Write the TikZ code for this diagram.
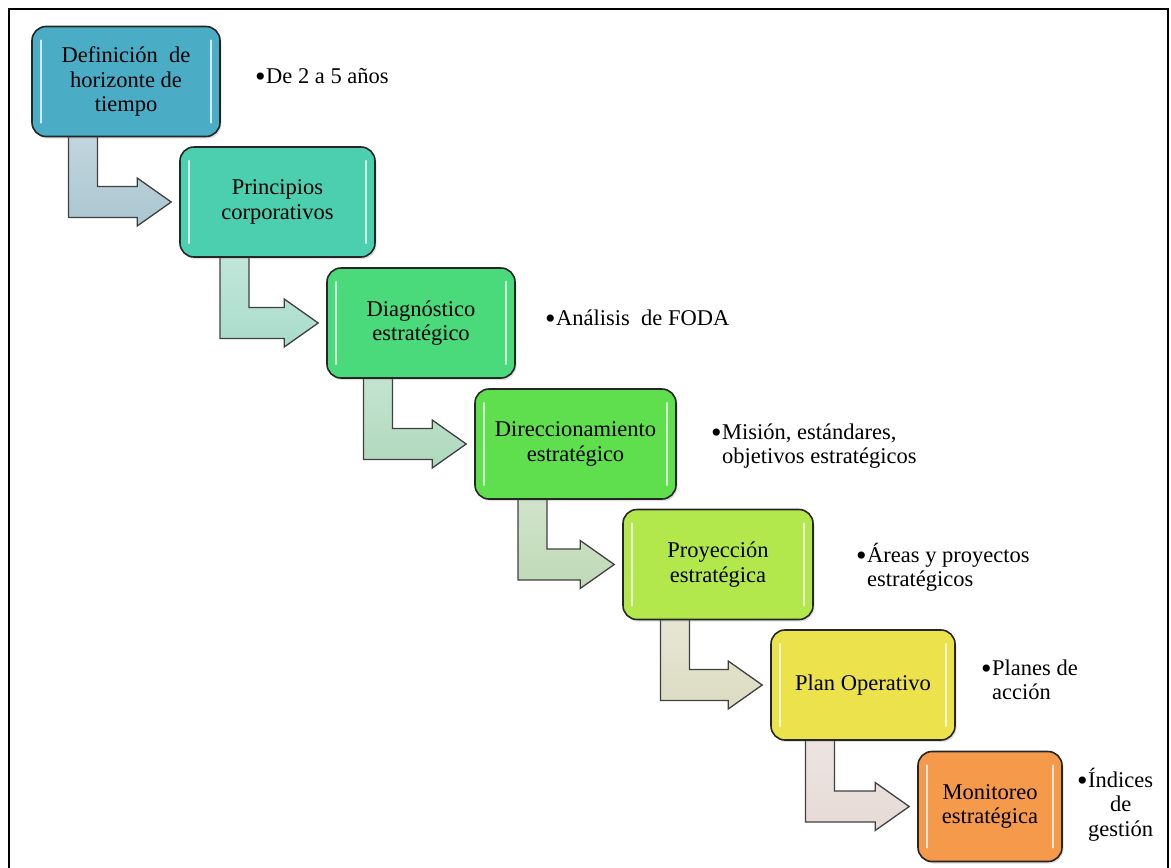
\documentclass[tikz,border=0pt]{standalone}
\usepackage{fontspec}
\setmainfont{Liberation Serif}
\usepackage{tikz}
\usetikzlibrary{positioning,calc,shadows,backgrounds}

\definecolor{boxA}{HTML}{4BACC6}
\definecolor{boxB}{HTML}{4CCFAF}
\definecolor{boxC}{HTML}{4AD97B}
\definecolor{boxD}{HTML}{5FDE4E}
\definecolor{boxE}{HTML}{B3E84C}
\definecolor{boxF}{HTML}{EBE24C}
\definecolor{boxG}{HTML}{F5994A}
\definecolor{arrA}{HTML}{AAC6D1}
\definecolor{arrB}{HTML}{A9DCCB}
\definecolor{arrC}{HTML}{AED9BD}
\definecolor{arrD}{HTML}{BFD9B6}
\definecolor{arrE}{HTML}{DCDCC3}
\definecolor{arrF}{HTML}{E6DAD6}

\newcommand{\diagfont}{\fontsize{22.5}{24.5}\selectfont}
\newcommand{\bul}{\raisebox{-3.5pt}{\fontsize{30}{30}\selectfont\textbullet}\hspace{0.5pt}}

\tikzset{
  stage/.style={draw=black!85, line width=1.6pt, rounded corners=14pt, fill=#1,
    minimum height=110pt, align=center, font=\diagfont, inner sep=2pt,
    drop shadow={opacity=0.25, shadow xshift=1.5pt, shadow yshift=-2pt},
    path picture={
      \draw[white, opacity=.75, line width=2.4pt, line cap=round]
        ([xshift=9pt,yshift=-14pt]path picture bounding box.north west) --
        ([xshift=9pt,yshift=14pt]path picture bounding box.south west);
      \draw[white, opacity=.75, line width=2.4pt, line cap=round]
        ([xshift=-9pt,yshift=-14pt]path picture bounding box.north east) --
        ([xshift=-9pt,yshift=14pt]path picture bounding box.south east);
    }},
  bent/.style={top color=#1!55!white, bottom color=#1, draw=black!75, line width=1.3pt, line join=miter},
  note/.style={font=\diagfont, inner sep=0pt, anchor=base west}
}

\begin{document}
\begin{tikzpicture}[x=1pt,y=-1pt]
\useasboundingbox (0,0) rectangle (1171,868);
\draw[line width=2pt] (9,872) |- (1168,9) -- (1168,872); % frame

% stages
\node[stage=boxA, minimum width=188pt] (b1) at (126,81.5) {Definición\ \ de\\horizonte de\\tiempo};
\node[stage=boxB, minimum width=195pt] (b2) at (277.5,202) {Principios\\corporativos};
\node[stage=boxC, minimum width=188pt] (b3) at (421,323) {Diagnóstico\\estratégico};
\node[stage=boxD, minimum width=201pt] (b4) at (575.5,444) {Direccionamiento\\estratégico};
\node[stage=boxE, minimum width=190pt] (b5) at (718,564.5) {Proyección\\estratégica};
\node[stage=boxF, minimum width=184pt] (b6) at (863,685) {Plan Operativo};
\node[stage=boxG, minimum width=144pt] (b7) at (990,806.5) {Monitoreo\\estratégica};

% bent arrows, under the boxes
\begin{pgfonlayer}{background}
\foreach \a/\b/\c in {b1/b2/arrA, b2/b3/arrB, b3/b4/arrC, b4/b5/arrD, b5/b6/arrE, b6/b7/arrF} {
  \coordinate (tip) at ([xshift=-8pt]\b.west);
  \path[bent=\c] ([xshift=-57.5pt]\a.center) |- ([xshift=-34pt,yshift=-15.5pt]tip)
    -- ([xshift=-34pt,yshift=-24pt]tip) -- (tip) -- ([xshift=-34pt,yshift=24pt]tip)
    -- ([xshift=-34pt,yshift=15.5pt]tip) -| ([xshift=-28.5pt]\a.center) -- cycle;
}
\end{pgfonlayer}

% notes
\node[note] (n1) at (255,83) {\bul De 2 a 5 años};
\node[note] (n3) at (545,325) {\bul Análisis\ \ de FODA};
\node[note] (n4) at (711,439) {\bul\begin{tabular}[t]{@{}l@{}}Misión, estándares,\\objetivos estratégicos\end{tabular}};
\node[note] (n5) at (856,562) {\bul\begin{tabular}[t]{@{}l@{}}Áreas y proyectos\\estratégicos\end{tabular}};
\node[note] (n6) at (981,675) {\bul\begin{tabular}[t]{@{}l@{}}Planes de\\acción\end{tabular}};
\node[note] (n7) at (1077,787) {\bul\begin{tabular}[t]{@{}c@{}}Índices\\de\\gestión\end{tabular}};
\end{tikzpicture}
\end{document}
